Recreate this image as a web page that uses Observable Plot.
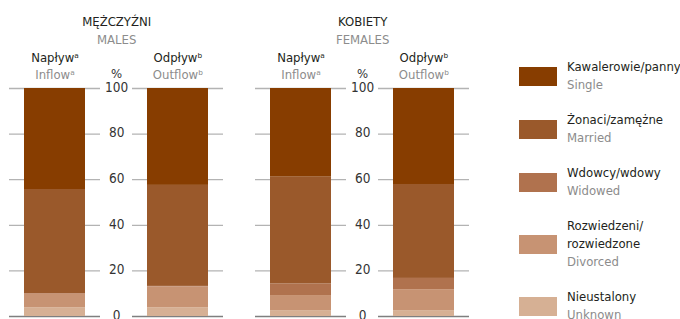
<!DOCTYPE html>
<html>
<head>
<meta charset="utf-8">
<script src="https://cdn.jsdelivr.net/npm/d3@7"></script>
<script src="https://cdn.jsdelivr.net/npm/@observablehq/plot@0.6"></script>
<style>
  html, body { margin: 0; padding: 0; background: #fff; }
  #wrap { position: relative; width: 680px; height: 319px; overflow: hidden;
          font-family: "Liberation Sans Narrow", "DejaVu Sans Condensed", "Roboto", sans-serif; }
  #chart { position: absolute; left: 0; top: 0; }
  #legend { position: absolute; left: 519px; top: 58px; display: flex; flex-direction: column; gap: 17px; }
  .row { display: flex; align-items: center; }
  .sw { width: 38px; height: 19px; margin-right: 10px; flex: none; }
  .txt { font-size: 13px; line-height: 18px; white-space: nowrap; }
  .pl { color: #231f20; }
  .en { color: #8c8c8c; }
</style>
</head>
<body>
<div id="wrap">
  <div id="chart"></div>
  <div id="legend"></div>
</div>
<script>
// ---- data ----
const groups = ["M_in", "M_out", "F_in", "F_out"];
const statusEN = ["Single", "Married", "Widowed", "Divorced", "Unknown"];
const statusPL = ["Kawalerowie/panny", "Żonaci/zamężne", "Wdowcy/wdowy", "Rozwiedzeni/\nrozwiedzone", "Nieustalony"];
const colors = ["#873d00", "#9a592b", "#b0724e", "#c79373", "#d6b094"];
// shares (%) per group, in statusEN order
const maleInflow   = [44.3, 45.7, 0.3, 5.8, 3.9];
const maleOutflow  = [42.5, 44.3, 0.3, 9.0, 3.9];
const femaleInflow = [38.9, 46.9, 5.0, 6.6, 2.6];
const femaleOutflow= [42.1, 41.2, 4.9, 9.2, 2.6];
const yTicks = [0, 20, 40, 60, 80, 100];
const sexPL = ["MĘŻCZYŹNI", "KOBIETY"];
const sexEN = ["MALES", "FEMALES"];
const flowPL = ["Napływᵃ", "Odpływᵇ"];
const flowEN = ["Inflowᵃ", "Outflowᵇ"];

// ---- build tables ----
const series = [maleInflow, maleOutflow, femaleInflow, femaleOutflow];
const stackData = [];
groups.forEach((g, i) => statusEN.forEach((s, j) => stackData.push({g, status: s, value: series[i][j]})));
const grid = [];
groups.forEach(g => yTicks.forEach(v => grid.push({g, v})));
const leftOfPair = [groups[0], groups[2]];
const tickLabels = [];
leftOfPair.forEach(g => yTicks.forEach(v => tickLabels.push({g, v})));
const sexHead = leftOfPair.map((g, i) => ({g, pl: sexPL[i], en: sexEN[i]}));
const flowHead = groups.map((g, i) => ({g, pl: flowPL[i % 2], en: flowEN[i % 2]}));

// ---- layout ----
const W = 480, ML = 8, MR = 11;
const gridW = 91, barW = 61;
const span = W - ML - MR;
// band scale: bandwidth = gridW, no outer padding
const P = (span - 4 * gridW) / (span - gridW);
const STEP = span / (4 - P);
const inset = (gridW - barW) / 2;
const black = "#231f20", gray = "#8c8c8c";

const chart = Plot.plot({
  width: W, height: 319,
  marginTop: 88, marginBottom: 3, marginLeft: ML, marginRight: MR,
  x: {type: "band", domain: groups, paddingInner: P, paddingOuter: 0, axis: null},
  y: {domain: [0, 100], axis: null},
  color: {domain: statusEN, range: colors},
  style: {fontFamily: '"Liberation Sans Narrow", "DejaVu Sans Condensed", sans-serif', fontSize: "13px", background: "white"},
  marks: [
    Plot.tickY(grid.filter(d => d.v !== 0), {x: "g", y: "v", stroke: "#b3b3b3", strokeWidth: 1.3}),
    Plot.tickY(grid.filter(d => d.v === 0), {x: "g", y: "v", stroke: "#7f7f7f", strokeWidth: 1.3}),
    Plot.barY(stackData, Plot.stackY({x: "g", y: "value", fill: "status",
      order: statusEN.slice().reverse(), insetLeft: inset, insetRight: inset})),
    Plot.text(tickLabels, {x: "g", y: "v", text: d => String(d.v), dx: STEP / 2, dy: -1, fill: "#333", fontSize: 13.5}),
    Plot.text(leftOfPair, {x: d => d, text: () => "%", dx: STEP / 2, frameAnchor: "top", dy: -20, fill: "#333", fontSize: 13}),
    Plot.text(sexHead, {x: "g", text: "pl", dx: STEP / 2, frameAnchor: "top", dy: -72, fill: black}),
    Plot.text(sexHead, {x: "g", text: "en", dx: STEP / 2, frameAnchor: "top", dy: -54, fill: gray}),
    Plot.text(flowHead, {x: "g", text: "pl", frameAnchor: "top", dy: -36, fill: black}),
    Plot.text(flowHead, {x: "g", text: "en", frameAnchor: "top", dy: -19, fill: gray})
  ]
});
document.getElementById("chart").appendChild(chart);

// ---- legend ----
const legend = d3.select("#legend");
statusEN.forEach((s, i) => {
  const row = legend.append("div").attr("class", "row");
  row.append("div").attr("class", "sw").style("background", colors[i]);
  const t = row.append("div").attr("class", "txt");
  statusPL[i].split("\n").forEach(line => t.append("div").attr("class", "pl").text(line));
  t.append("div").attr("class", "en").text(s);
});
</script>
</body>
</html>
